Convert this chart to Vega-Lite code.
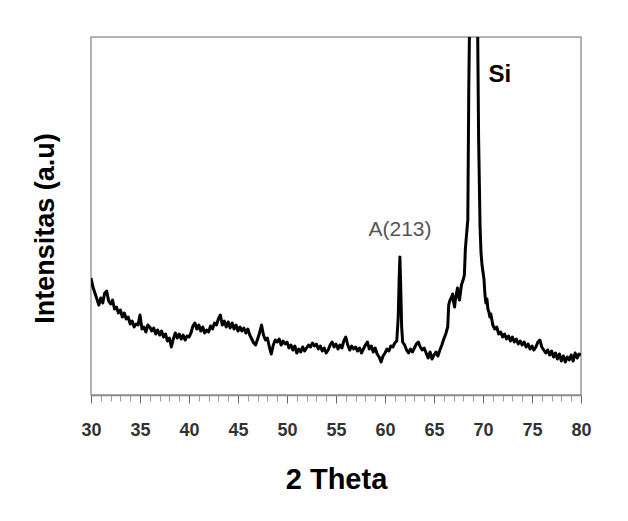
{
  "$schema": "https://vega.github.io/schema/vega-lite/v6.json",
  "autosize": "none",
  "width": 490,
  "height": 358,
  "padding": {"left": 91, "top": 37, "right": 47, "bottom": 126},
  "background": "white",
  "config": {
    "view": {"stroke": "#9a9a9a", "strokeWidth": 1.5},
    "font": "Liberation Sans"
  },
  "resolve": {"axis": {"x": "independent"}},
  "layer": [
    {
      "data": {"values": [
        {"theta":30.0,"intensity":119},{"theta":30.2,"intensity":110},{"theta":30.4,"intensity":104},{"theta":30.6,"intensity":98},{"theta":30.8,"intensity":92},
        {"theta":31.0,"intensity":99},{"theta":31.2,"intensity":94},{"theta":31.4,"intensity":104},{"theta":31.6,"intensity":106},{"theta":31.8,"intensity":96},
        {"theta":32.0,"intensity":93},{"theta":32.2,"intensity":97},{"theta":32.4,"intensity":88},{"theta":32.6,"intensity":90},{"theta":32.8,"intensity":84},
        {"theta":33.0,"intensity":87},{"theta":33.2,"intensity":80},{"theta":33.4,"intensity":84},{"theta":33.6,"intensity":78},{"theta":33.8,"intensity":80},
        {"theta":34.0,"intensity":73},{"theta":34.2,"intensity":76},{"theta":34.4,"intensity":70},{"theta":34.6,"intensity":73},{"theta":34.8,"intensity":72},
        {"theta":35.0,"intensity":82},{"theta":35.2,"intensity":68},{"theta":35.4,"intensity":70},{"theta":35.6,"intensity":65},{"theta":35.8,"intensity":72},
        {"theta":36.0,"intensity":70},{"theta":36.2,"intensity":66},{"theta":36.4,"intensity":69},{"theta":36.6,"intensity":63},{"theta":36.8,"intensity":67},
        {"theta":37.0,"intensity":62},{"theta":37.2,"intensity":66},{"theta":37.4,"intensity":60},{"theta":37.6,"intensity":63},{"theta":37.8,"intensity":56},
        {"theta":38.0,"intensity":59},{"theta":38.2,"intensity":50},{"theta":38.4,"intensity":58},{"theta":38.6,"intensity":64},{"theta":38.8,"intensity":59},
        {"theta":39.0,"intensity":63},{"theta":39.2,"intensity":58},{"theta":39.4,"intensity":62},{"theta":39.6,"intensity":57},{"theta":39.8,"intensity":61},
        {"theta":40.0,"intensity":60},{"theta":40.2,"intensity":64},{"theta":40.4,"intensity":71},{"theta":40.6,"intensity":74},{"theta":40.8,"intensity":68},
        {"theta":41.0,"intensity":72},{"theta":41.2,"intensity":66},{"theta":41.4,"intensity":70},{"theta":41.6,"intensity":64},{"theta":41.8,"intensity":67},
        {"theta":42.0,"intensity":65},{"theta":42.2,"intensity":71},{"theta":42.4,"intensity":68},{"theta":42.6,"intensity":74},{"theta":42.8,"intensity":72},
        {"theta":43.0,"intensity":78},{"theta":43.2,"intensity":82},{"theta":43.4,"intensity":72},{"theta":43.6,"intensity":76},{"theta":43.8,"intensity":70},
        {"theta":44.0,"intensity":75},{"theta":44.2,"intensity":69},{"theta":44.4,"intensity":74},{"theta":44.6,"intensity":68},{"theta":44.8,"intensity":72},
        {"theta":45.0,"intensity":66},{"theta":45.2,"intensity":70},{"theta":45.4,"intensity":66},{"theta":45.6,"intensity":69},{"theta":45.8,"intensity":64},
        {"theta":46.0,"intensity":68},{"theta":46.2,"intensity":62},{"theta":46.4,"intensity":58},{"theta":46.6,"intensity":54},{"theta":46.8,"intensity":52},
        {"theta":47.0,"intensity":58},{"theta":47.2,"intensity":64},{"theta":47.4,"intensity":72},{"theta":47.6,"intensity":62},{"theta":47.8,"intensity":57},
        {"theta":48.0,"intensity":59},{"theta":48.2,"intensity":50},{"theta":48.4,"intensity":43},{"theta":48.6,"intensity":52},{"theta":48.8,"intensity":57},
        {"theta":49.0,"intensity":55},{"theta":49.2,"intensity":58},{"theta":49.4,"intensity":52},{"theta":49.6,"intensity":56},{"theta":49.8,"intensity":53},
        {"theta":50.0,"intensity":55},{"theta":50.2,"intensity":49},{"theta":50.4,"intensity":52},{"theta":50.6,"intensity":47},{"theta":50.8,"intensity":51},
        {"theta":51.0,"intensity":44},{"theta":51.2,"intensity":48},{"theta":51.4,"intensity":45},{"theta":51.6,"intensity":50},{"theta":51.8,"intensity":46},
        {"theta":52.0,"intensity":49},{"theta":52.2,"intensity":52},{"theta":52.4,"intensity":50},{"theta":52.6,"intensity":54},{"theta":52.8,"intensity":51},
        {"theta":53.0,"intensity":53},{"theta":53.2,"intensity":48},{"theta":53.4,"intensity":51},{"theta":53.6,"intensity":46},{"theta":53.8,"intensity":49},
        {"theta":54.0,"intensity":44},{"theta":54.2,"intensity":47},{"theta":54.4,"intensity":52},{"theta":54.6,"intensity":55},{"theta":54.8,"intensity":50},
        {"theta":55.0,"intensity":53},{"theta":55.2,"intensity":48},{"theta":55.4,"intensity":52},{"theta":55.6,"intensity":49},{"theta":55.8,"intensity":56},
        {"theta":56.0,"intensity":60},{"theta":56.2,"intensity":52},{"theta":56.4,"intensity":47},{"theta":56.6,"intensity":51},{"theta":56.8,"intensity":48},
        {"theta":57.0,"intensity":50},{"theta":57.2,"intensity":46},{"theta":57.4,"intensity":49},{"theta":57.6,"intensity":44},{"theta":57.8,"intensity":48},
        {"theta":58.0,"intensity":52},{"theta":58.2,"intensity":55},{"theta":58.4,"intensity":48},{"theta":58.6,"intensity":51},{"theta":58.8,"intensity":45},
        {"theta":59.0,"intensity":49},{"theta":59.2,"intensity":43},{"theta":59.4,"intensity":40},{"theta":59.6,"intensity":35},{"theta":59.8,"intensity":41},
        {"theta":60.0,"intensity":44},{"theta":60.2,"intensity":48},{"theta":60.4,"intensity":46},{"theta":60.6,"intensity":51},{"theta":60.8,"intensity":50},
        {"theta":61.0,"intensity":54},{"theta":61.2,"intensity":56},{"theta":61.35,"intensity":80},{"theta":61.45,"intensity":120},{"theta":61.52,"intensity":140},
        {"theta":61.6,"intensity":112},{"theta":61.7,"intensity":70},{"theta":61.8,"intensity":55},{"theta":62.0,"intensity":52},{"theta":62.2,"intensity":47},
        {"theta":62.4,"intensity":44},{"theta":62.6,"intensity":48},{"theta":62.8,"intensity":45},{"theta":63.0,"intensity":49},{"theta":63.2,"intensity":53},
        {"theta":63.4,"intensity":55},{"theta":63.6,"intensity":50},{"theta":63.8,"intensity":47},{"theta":64.0,"intensity":49},{"theta":64.2,"intensity":44},
        {"theta":64.4,"intensity":39},{"theta":64.6,"intensity":45},{"theta":64.8,"intensity":38},{"theta":65.0,"intensity":42},{"theta":65.2,"intensity":45},
        {"theta":65.4,"intensity":41},{"theta":65.6,"intensity":47},{"theta":65.8,"intensity":52},{"theta":66.0,"intensity":58},{"theta":66.2,"intensity":63},
        {"theta":66.4,"intensity":70},{"theta":66.5,"intensity":92},{"theta":66.6,"intensity":96},{"theta":66.8,"intensity":100},{"theta":66.9,"intensity":103},
        {"theta":67.0,"intensity":95},{"theta":67.1,"intensity":90},{"theta":67.2,"intensity":99},{"theta":67.4,"intensity":109},{"theta":67.5,"intensity":100},
        {"theta":67.6,"intensity":97},{"theta":67.8,"intensity":112},{"theta":68.0,"intensity":118},{"theta":68.1,"intensity":122},{"theta":68.2,"intensity":148},
        {"theta":68.3,"intensity":160},{"theta":68.45,"intensity":177},{"theta":68.55,"intensity":310},{"theta":68.7,"intensity":430},{"theta":69.05,"intensity":600},
        {"theta":69.4,"intensity":430},{"theta":69.55,"intensity":260},{"theta":69.7,"intensity":170},{"theta":69.8,"intensity":144},{"theta":69.9,"intensity":132},
        {"theta":70.0,"intensity":125},{"theta":70.1,"intensity":118},{"theta":70.2,"intensity":102},{"theta":70.3,"intensity":94},{"theta":70.4,"intensity":98},
        {"theta":70.5,"intensity":88},{"theta":70.6,"intensity":85},{"theta":70.7,"intensity":80},{"theta":70.8,"intensity":83},{"theta":71.0,"intensity":72},
        {"theta":71.2,"intensity":68},{"theta":71.4,"intensity":70},{"theta":71.6,"intensity":63},{"theta":71.8,"intensity":65},{"theta":72.0,"intensity":60},
        {"theta":72.2,"intensity":63},{"theta":72.4,"intensity":58},{"theta":72.6,"intensity":61},{"theta":72.8,"intensity":56},{"theta":73.0,"intensity":60},
        {"theta":73.2,"intensity":55},{"theta":73.4,"intensity":58},{"theta":73.6,"intensity":53},{"theta":73.8,"intensity":56},{"theta":74.0,"intensity":52},
        {"theta":74.2,"intensity":55},{"theta":74.4,"intensity":50},{"theta":74.6,"intensity":53},{"theta":74.8,"intensity":48},{"theta":75.0,"intensity":51},
        {"theta":75.2,"intensity":47},{"theta":75.4,"intensity":50},{"theta":75.6,"intensity":55},{"theta":75.8,"intensity":57},{"theta":76.0,"intensity":50},
        {"theta":76.2,"intensity":47},{"theta":76.4,"intensity":44},{"theta":76.6,"intensity":47},{"theta":76.8,"intensity":42},{"theta":77.0,"intensity":46},
        {"theta":77.2,"intensity":40},{"theta":77.4,"intensity":44},{"theta":77.6,"intensity":38},{"theta":77.8,"intensity":43},{"theta":78.0,"intensity":36},
        {"theta":78.2,"intensity":41},{"theta":78.4,"intensity":35},{"theta":78.6,"intensity":40},{"theta":78.8,"intensity":37},{"theta":79.0,"intensity":42},
        {"theta":79.2,"intensity":36},{"theta":79.4,"intensity":44},{"theta":79.6,"intensity":39},{"theta":79.8,"intensity":43},{"theta":80.0,"intensity":42}
      ]},
      "mark": {"type": "line", "color": "#000000", "strokeWidth": 3, "clip": true, "strokeJoin": "round"},
      "encoding": {
        "x": {
          "field": "theta", "type": "quantitative",
          "scale": {"domain": [30, 80], "nice": false, "zero": false},
          "axis": {
            "orient": "bottom",
            "title": "2 Theta",
            "titleFont": "Liberation Sans", "titleFontSize": 29, "titleFontWeight": "bold", "titleColor": "#000000",
            "titlePadding": 26,
            "values": [30, 35, 40, 45, 50, 55, 60, 65, 70, 75, 80],
            "format": "d",
            "labelFont": "Liberation Sans", "labelFontSize": 18, "labelFontWeight": "bold", "labelColor": "#333333",
            "labelPadding": 18, "labelFlush": false, "labelOverlap": false,
            "tickSize": 8, "tickWidth": 1, "tickColor": "#666666",
            "domainColor": "#888888", "domainWidth": 1.5,
            "grid": false
          }
        },
        "y": {
          "field": "intensity", "type": "quantitative",
          "scale": {"domain": [2, 360], "nice": false, "zero": false},
          "axis": {
            "title": "Intensitas (a.u)",
            "titleFont": "Liberation Sans", "titleFontSize": 27, "titleFontWeight": "bold", "titleColor": "#000000",
            "titleAngle": 270, "titleAlign": "center", "titleBaseline": "middle",
            "titleX": -46, "titleY": 191,
            "labels": false, "ticks": false, "domain": false, "grid": false
          }
        }
      }
    },
    {
      "data": {"values": [{"theta": 61.53, "intensity": 167, "label": "A(213)"}]},
      "mark": {"type": "text", "font": "Liberation Sans", "fontSize": 21, "fontWeight": "normal", "color": "#555555", "align": "center", "baseline": "middle"},
      "encoding": {
        "x": {
          "field": "theta", "type": "quantitative",
          "axis": {
            "orient": "bottom",
            "title": null, "labels": false, "domain": false, "grid": false,
            "values": [31,32,33,34,36,37,38,39,41,42,43,44,46,47,48,49,51,52,53,54,56,57,58,59,61,62,63,64,66,67,68,69,71,72,73,74,76,77,78,79],
            "tickSize": 6, "tickWidth": 1, "tickColor": "#999999"
          }
        },
        "y": {"field": "intensity", "type": "quantitative"},
        "text": {"field": "label"}
      }
    },
    {
      "data": {"values": [{"theta": 71.73, "intensity": 322, "label": "Si"}]},
      "mark": {"type": "text", "font": "Liberation Sans", "fontSize": 24, "fontWeight": "bold", "color": "#000000", "align": "center", "baseline": "middle"},
      "encoding": {
        "x": {"field": "theta", "type": "quantitative", "axis": null},
        "y": {"field": "intensity", "type": "quantitative"},
        "text": {"field": "label"}
      }
    }
  ]
}
